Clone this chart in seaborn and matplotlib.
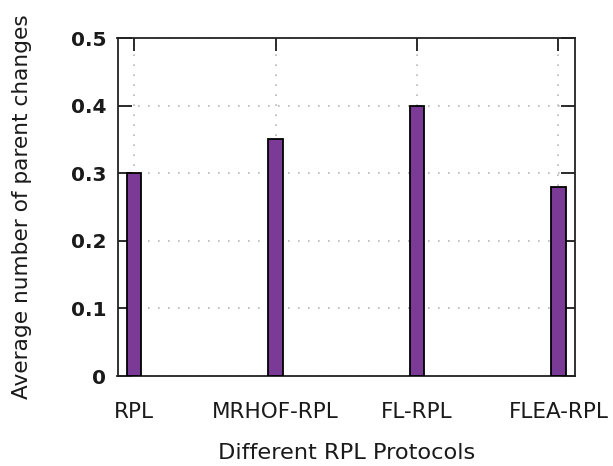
import matplotlib
matplotlib.use("Agg")
import matplotlib.pyplot as plt
import seaborn as sns
import pandas as pd

protocols = ["RPL", "MRHOF-RPL", "FL-RPL", "FLEA-RPL"]
parent_changes = [0.30, 0.35, 0.40, 0.28]
y_ticks = [0, 0.1, 0.2, 0.3, 0.4, 0.5]
y_ticklabels = ["0", "0.1", "0.2", "0.3", "0.4", "0.5"]

df = pd.DataFrame({"protocol": protocols, "value": parent_changes})

sns.set_style("white")
plt.rcParams["font.family"] = ["DejaVu Sans"]

fig = plt.figure(figsize=(6.13, 4.66), dpi=100)
ax = fig.add_axes([117.5 / 613, 1 - 376 / 466, (575 - 117.5) / 613, (376 - 38) / 466])

sns.barplot(data=df, x="protocol", y="value", color="#7B3A96", saturation=1,
            width=0.1, edgecolor="black", linewidth=1.3, ax=ax, zorder=3)

ax.set_xlim(-0.117, 3.117)
ax.set_ylim(0, 0.5)
ax.set_yticks(y_ticks)
ax.set_yticklabels(y_ticklabels, fontsize=14.5, fontweight="bold", color="#1a1a1a")
ax.set_xticks(range(len(protocols)))
ax.set_xticklabels(protocols, fontsize=15.5, color="#1a1a1a")

ax.grid(True, color="#b8b8b8", linestyle=(0, (1, 5)), linewidth=1.2, zorder=0)
ax.set_axisbelow(True)

for s in ax.spines.values():
    s.set_visible(True)
    s.set_color("#222222")
    s.set_linewidth(1.3)

ax.tick_params(axis="y", which="both", direction="in", length=10, width=1.3,
               left=True, right=True, pad=8, colors="#1a1a1a")
ax.tick_params(axis="x", which="both", direction="in", length=9, width=1.3,
               bottom=False, top=True, pad=19, colors="#1a1a1a")

ax.set_xlabel("Different RPL Protocols", fontsize=16.2, color="#1a1a1a", labelpad=15)
ax.set_ylabel("Average number of parent changes", fontsize=15.6, color="#1a1a1a", labelpad=28)

fig.savefig("out.png", dpi=100, facecolor="white")
